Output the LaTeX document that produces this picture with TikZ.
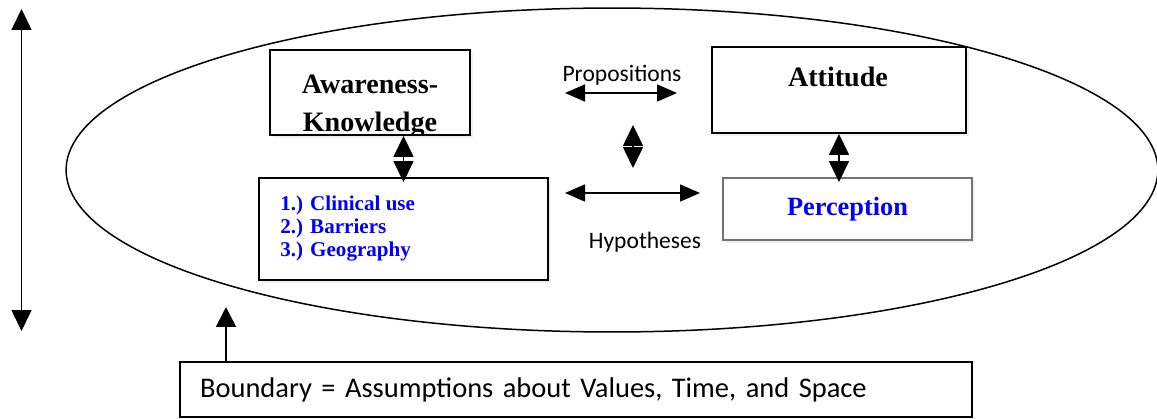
\documentclass[tikz,border=0pt]{standalone}
\usepackage{fontspec}
\setmainfont{Liberation Serif}
\newfontfamily\calfont{Carlito}
\usetikzlibrary{arrows.meta,shapes.geometric,shadows}

\begin{document}
\begin{tikzpicture}[
    x=0.02cm, y=-0.02cm,
    box/.style={draw, line width=1.1pt, fill=white, inner sep=0pt,
      drop shadow={shadow xshift=1.5pt, shadow yshift=-1.5pt, opacity=0.12}},
    title/.style={font=\fontsize{16}{21.5}\selectfont\bfseries, align=center, inner sep=0pt},
    item/.style={font=\fontsize{12}{13}\selectfont\bfseries, text=blue, align=left, inner sep=0pt},
    note/.style={font=\calfont\fontsize{13.4}{16}\selectfont, inner sep=0pt},
    dbl/.style={line width=0.9pt, {Triangle[length=0.42cm,width=0.4cm]}-{Triangle[length=0.42cm,width=0.4cm]}},
    link/.style={line width=0.9pt, {Triangle[length=0.4cm,width=0.34cm]}-{Triangle[length=0.4cm,width=0.34cm]}},
    uarr/.style={line width=0.9pt, -{Triangle[length=0.4cm,width=0.4cm]}}
  ]
  \useasboundingbox (0,0) rectangle (1157,419);
  % the boundary
  \node[ellipse, draw, line width=0.85pt, minimum width=21.84cm, minimum height=6.48cm, inner sep=0pt] (field) at (612,170) {};
  % concepts
  \node[box, minimum width=4cm, minimum height=1.7cm] (aware) at (370,92.5) {};
  \begin{scope}
    \clip ([shift={(0.6pt,0.6pt)}]aware.south west) rectangle ([shift={(-0.6pt,-0.6pt)}]aware.north east);
    \node[title, anchor=north] (awaretxt) at (370,75) {Awareness-\\Knowledge};
  \end{scope}
  \node[box, minimum width=5.08cm, minimum height=1.72cm] (att) at (839,90) {};
  \node[title, anchor=north] (atttxt) at (838,67) {Attitude};
  \node[box, minimum width=5.78cm, minimum height=2.04cm] (clin) at (403.5,229) {};
  \node[item, anchor=north west] (clintxt) at (280,196) {1.) Clinical use\\2.) Barriers\\3.) Geography};
  \node[box, draw=gray!90!black, minimum width=4.98cm, minimum height=1.24cm,
    font=\fontsize{15}{18}\selectfont\bfseries, text=blue] (perc) at (847.5,209) {Perception};
  % labels
  \node[note] (prop) at (622,75) {Propositions};
  \node[note] (hyp) at (645,242) {Hypotheses};
  \node[note, font=\calfont\fontsize{16.2}{19}\selectfont, draw, line width=1.1pt,
    minimum width=15.84cm, minimum height=1.1cm,
    text width=15.04cm, inner xsep=0.4cm, align=left] (bnd) at (576,389.5)
    {Boundary = Assumptions about Values, Time, and Space};
  % links
  \coordinate (pl) at (565,93);
  \coordinate (pr) at (677,93);
  \coordinate (hl) at (565,193);
  \coordinate (hr) at (700,193);
  \coordinate (pu) at (633,125);
  \coordinate (pd) at (633,168);
  \coordinate (axtop) at (21.5,9);
  \coordinate (axbot) at (21.5,331);
  \coordinate (bt) at (226,307);
  \draw[dbl] (aware.south -| clin.north) -- ([yshift=-0.1cm]clin.north);
  \draw[dbl] (att.south) -- ([yshift=-0.1cm]att.south |- perc.north);
  \draw[dbl] (pu) -- (pd);
  \draw[link] (pl) -- (pr);
  \draw[link] (hl) -- (hr);
  \draw[dbl] (axtop) -- (axbot);
  \draw[uarr] (bt |- bnd.north) -- (bt);
\end{tikzpicture}
\end{document}
